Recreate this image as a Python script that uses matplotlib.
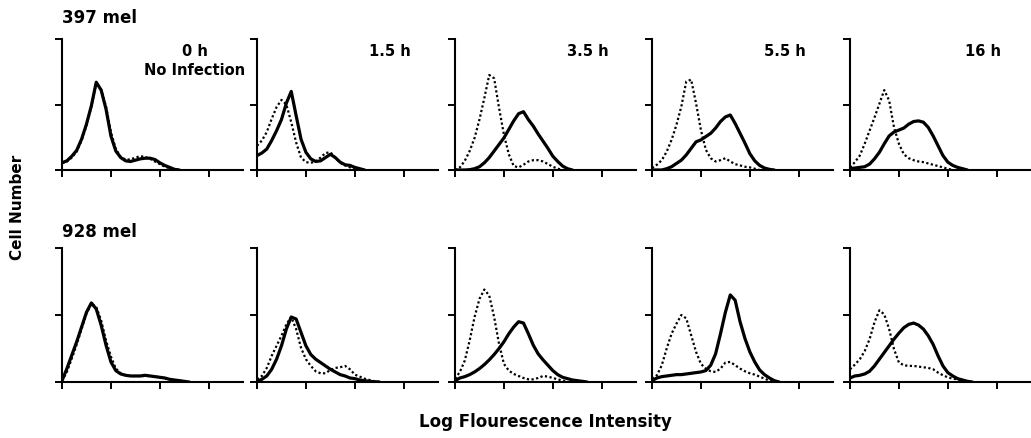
import numpy as np
import matplotlib
matplotlib.use("Agg")
import matplotlib.pyplot as plt

plt.rcParams['font.family'] = ['DejaVu Sans']

# time points (columns) and cell lines (rows)
times = ["0 h", "1.5 h", "3.5 h", "5.5 h", "16 h"]
cell_lines = ["397 mel", "928 mel"]
x_step = 0.1  # log fluorescence units between readings

# 397 mel, solid = infected, dotted = control
mel397_solid = [
    [0.11, 0.14, 0.21, 0.30, 0.47, 0.70, 0.98, 1.34, 1.22, 0.93, 0.52, 0.29, 0.19, 0.14, 0.13, 0.15, 0.17, 0.18, 0.18, 0.16, 0.11, 0.07, 0.04, 0.01, 0],
    [0.22, 0.26, 0.32, 0.45, 0.60, 0.77, 1.02, 1.20, 0.83, 0.47, 0.27, 0.17, 0.13, 0.14, 0.19, 0.24, 0.19, 0.12, 0.08, 0.07, 0.04, 0.02, 0],
    [0, 0, 0, 0.005, 0.02, 0.05, 0.11, 0.19, 0.29, 0.39, 0.49, 0.62, 0.75, 0.86, 0.89, 0.77, 0.67, 0.55, 0.44, 0.33, 0.21, 0.13, 0.06, 0.02, 0],
    [0, 0, 0, 0.02, 0.05, 0.10, 0.15, 0.23, 0.33, 0.43, 0.46, 0.51, 0.56, 0.64, 0.74, 0.81, 0.84, 0.71, 0.56, 0.41, 0.25, 0.14, 0.07, 0.03, 0.01, 0],
    [0.02, 0.03, 0.04, 0.05, 0.09, 0.17, 0.27, 0.40, 0.52, 0.58, 0.61, 0.64, 0.70, 0.74, 0.75, 0.73, 0.65, 0.52, 0.37, 0.22, 0.12, 0.07, 0.04, 0.02, 0],
]
mel397_dotted = [
    [0.10, 0.13, 0.19, 0.28, 0.45, 0.68, 0.97, 1.33, 1.23, 0.97, 0.58, 0.32, 0.20, 0.16, 0.16, 0.19, 0.21, 0.20, 0.17, 0.13, 0.09, 0.05, 0.03, 0.01, 0],
    [0.37, 0.45, 0.58, 0.78, 0.96, 1.07, 1.00, 0.73, 0.42, 0.19, 0.12, 0.11, 0.13, 0.19, 0.26, 0.27, 0.19, 0.11, 0.07, 0.04, 0.02, 0],
    [0, 0.04, 0.14, 0.29, 0.49, 0.77, 1.10, 1.45, 1.40, 0.95, 0.54, 0.24, 0.06, 0.04, 0.08, 0.13, 0.15, 0.15, 0.13, 0.09, 0.05, 0.02, 0],
    [0.03, 0.08, 0.15, 0.28, 0.46, 0.69, 0.97, 1.35, 1.38, 1.02, 0.61, 0.31, 0.18, 0.13, 0.15, 0.18, 0.13, 0.09, 0.07, 0.05, 0.04, 0.02, 0],
    [0.04, 0.12, 0.22, 0.40, 0.60, 0.80, 1.01, 1.22, 1.06, 0.65, 0.40, 0.24, 0.18, 0.15, 0.13, 0.12, 0.10, 0.08, 0.06, 0.04, 0.02, 0],
]

# 928 mel
mel928_solid = [
    [0.02, 0.20, 0.40, 0.60, 0.82, 1.04, 1.18, 1.09, 0.85, 0.55, 0.30, 0.17, 0.12, 0.10, 0.09, 0.09, 0.09, 0.10, 0.09, 0.08, 0.07, 0.06, 0.04, 0.03, 0.02, 0.01, 0],
    [0.01, 0.04, 0.09, 0.19, 0.34, 0.54, 0.79, 0.97, 0.94, 0.74, 0.54, 0.41, 0.34, 0.29, 0.24, 0.19, 0.15, 0.11, 0.09, 0.06, 0.05, 0.03, 0.02, 0.01, 0.005, 0],
    [0.02, 0.06, 0.08, 0.11, 0.15, 0.20, 0.26, 0.33, 0.41, 0.50, 0.60, 0.72, 0.82, 0.90, 0.88, 0.72, 0.55, 0.42, 0.33, 0.25, 0.17, 0.11, 0.07, 0.05, 0.03, 0.02, 0.01, 0],
    [0.02, 0.06, 0.08, 0.09, 0.10, 0.11, 0.11, 0.12, 0.13, 0.14, 0.15, 0.17, 0.25, 0.42, 0.72, 1.04, 1.30, 1.22, 0.90, 0.65, 0.45, 0.30, 0.18, 0.11, 0.06, 0.02, 0],
    [0.06, 0.09, 0.10, 0.12, 0.16, 0.24, 0.34, 0.44, 0.54, 0.64, 0.73, 0.81, 0.86, 0.88, 0.85, 0.79, 0.69, 0.56, 0.39, 0.24, 0.14, 0.09, 0.05, 0.03, 0.01, 0],
]
mel928_dotted = [
    [0.02, 0.15, 0.35, 0.56, 0.79, 1.02, 1.17, 1.12, 0.92, 0.62, 0.38, 0.20, 0.13, 0.10, 0.09, 0.09, 0.09, 0.09, 0.09, 0.08, 0.07, 0.05, 0.04, 0.03, 0.02, 0.01, 0],
    [0.04, 0.09, 0.21, 0.39, 0.54, 0.69, 0.86, 0.97, 0.79, 0.51, 0.34, 0.24, 0.16, 0.13, 0.13, 0.18, 0.21, 0.22, 0.24, 0.19, 0.11, 0.08, 0.05, 0.03, 0.01, 0],
    [0.05, 0.15, 0.32, 0.62, 0.97, 1.24, 1.38, 1.29, 0.97, 0.57, 0.27, 0.17, 0.12, 0.09, 0.06, 0.04, 0.04, 0.06, 0.09, 0.08, 0.06, 0.04, 0.02, 0],
    [0.05, 0.10, 0.25, 0.50, 0.72, 0.87, 1.00, 0.95, 0.70, 0.45, 0.27, 0.20, 0.16, 0.15, 0.20, 0.29, 0.30, 0.25, 0.20, 0.16, 0.13, 0.11, 0.08, 0.05, 0.02, 0],
    [0.19, 0.26, 0.34, 0.46, 0.64, 0.89, 1.07, 1.01, 0.79, 0.49, 0.29, 0.25, 0.24, 0.24, 0.23, 0.22, 0.21, 0.19, 0.14, 0.10, 0.07, 0.05, 0.04, 0.02, 0],
]

W, H = 1031, 439
fig = plt.figure(figsize=(W / 100, H / 100), dpi=100)

lefts = [62, 257, 455, 652, 850]   # pixel x of each panel's y axis
rows = [(40, 171), (249, 383)]     # pixel top / baseline of each row
panel_w = 181

solids = [mel397_solid, mel928_solid]
dotteds = [mel397_dotted, mel928_dotted]

for r, (top, base) in enumerate(rows):
    for c, left in enumerate(lefts):
        ax = fig.add_axes([left / W, 1 - base / H, panel_w / W, (base - top) / H])
        ys = solids[r][c]
        yd = dotteds[r][c]
        ax.plot(np.arange(len(yd)) * x_step, yd, color='black', lw=1.6,
                linestyle=(0, (1, 1.1)), solid_capstyle='round')
        ax.plot(np.arange(len(ys)) * x_step, ys, color='black', lw=2.3,
                solid_joinstyle='round', solid_capstyle='round')
        ax.set_xlim(0, 3.7)
        ax.set_ylim(0, 2)
        ax.set_xticks([0, 1, 2, 3])
        ax.set_yticks([0, 1, 2])
        ax.set_xticklabels([])
        ax.set_yticklabels([])
        ax.tick_params(direction='out', length=5, width=1.4, color='black')
        for s in ['top', 'right']:
            ax.spines[s].set_visible(False)
        for s in ['left', 'bottom']:
            ax.spines[s].set_linewidth(1.5)
        if r == 0:
            ax.text(2.72, 1.82, times[c], ha='center', va='center',
                    fontsize=10.5, fontweight='bold')
            if c == 0:
                ax.text(2.72, 1.53, "No Infection", ha='center', va='center',
                        fontsize=10.5, fontweight='bold')

fig.text(62 / W, 1 - 18 / H, cell_lines[0], ha='left', va='center',
         fontsize=12, fontweight='bold')
fig.text(62 / W, 1 - 232 / H, cell_lines[1], ha='left', va='center',
         fontsize=12, fontweight='bold')
fig.text(18 / W, 1 - 207 / H, "Cell Number", rotation=90, ha='center',
         va='center', fontsize=11, fontweight='bold')
fig.text(545 / W, 1 - 422 / H, "Log Flourescence Intensity", ha='center',
         va='center', fontsize=12, fontweight='bold')

fig.savefig("out.png", dpi=100)
